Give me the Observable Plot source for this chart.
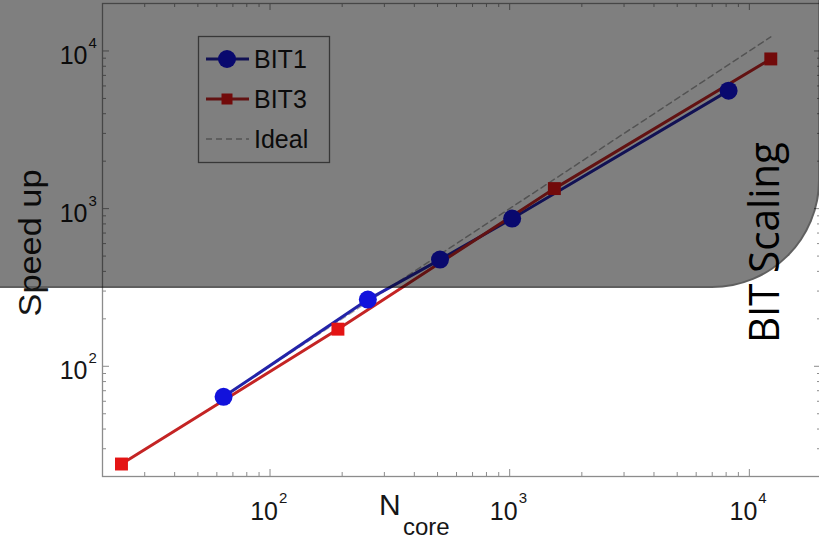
<!DOCTYPE html>
<html><head><meta charset="utf-8">
<script src="https://cdn.jsdelivr.net/npm/d3@7"></script>
<script src="https://cdn.jsdelivr.net/npm/@observablehq/plot@0.6"></script>
<style>
html,body{margin:0;padding:0;background:#fff;}
#wrap{position:relative;width:819px;height:541px;overflow:hidden;font-family:"Liberation Sans",Arial,sans-serif;}
#wrap > *{position:absolute;left:0;top:0;}
</style></head><body><div id="wrap"></div>
<script>
// ---- data ----
const bit1Cores = [64, 256, 512, 1024, 8192];
const bit1Speedup = [64, 265, 475, 865, 5600];
const bit3Cores = [24, 192, 1536, 12288];
const bit3Speedup = [24, 172, 1340, 8900];
const idealCores = [64, 12288];
const idealSpeedup = [64, 12288];
const seriesNames = ["BIT1", "BIT3", "Ideal"];
const majorTicks = [100, 1000, 10000];
const majorExponents = ["2", "3", "4"];
const minorTicks = [20,30,40,50,60,70,80,90,200,300,400,500,600,700,800,900,2000,3000,4000,5000,6000,7000,8000,9000,20000];
const axisDomain = [20, 20000];
const xLabelMain = "N", xLabelSub = "core", yLabel = "Speed up", sideTitle = "BIT Scaling";

// ---- layout ----
const W = 819, H = 541, ML = 102, MT = 3, MB = 65, MR = -2;
const FW = W - ML - MR, FH = H - MT - MB;
const axisColor = "#8c8c8c";
const bigTick = 7, smallTick = 4;
const FONT = "'Liberation Sans', Arial, sans-serif";

const bit1 = bit1Cores.map((c, i) => ({cores: c, speedup: bit1Speedup[i]}));
const bit3 = bit3Cores.map((c, i) => ({cores: c, speedup: bit3Speedup[i]}));
const ideal = idealCores.map((c, i) => ({cores: c, speedup: idealSpeedup[i]}));

const blueLine = "#2323a8", blueDot = "#1212dc";
const redLine = "#c42424", redDot = "#e41414";
const idealColor = "#a6a6a6";
const textColor = "#161616";

const tickOpts = {stroke: axisColor, strokeWidth: 1};
const chart = Plot.plot({
  width: W, height: H,
  marginLeft: ML, marginRight: MR, marginTop: MT, marginBottom: MB,
  x: {type: "log", domain: axisDomain, range: [ML, W - MR], axis: null},
  y: {type: "log", domain: axisDomain, range: [H - MB, MT], axis: null},
  style: {fontFamily: FONT, fontSize: "24px", color: textColor, background: "#fff", overflow: "visible"},
  marks: [
    // inward ticks, bottom / top
    Plot.tickX(majorTicks, {x: d => d, insetTop: FH - bigTick, ...tickOpts}),
    Plot.tickX(minorTicks, {x: d => d, insetTop: FH - smallTick, ...tickOpts}),
    Plot.tickX(majorTicks, {x: d => d, insetBottom: FH - bigTick, ...tickOpts}),
    Plot.tickX(minorTicks, {x: d => d, insetBottom: FH - smallTick, ...tickOpts}),
    // inward ticks, left / right
    Plot.tickY(majorTicks, {y: d => d, insetRight: FW - bigTick, ...tickOpts}),
    Plot.tickY(minorTicks, {y: d => d, insetRight: FW - smallTick, ...tickOpts}),
    Plot.tickY(majorTicks, {y: d => d, insetLeft: FW - bigTick, ...tickOpts}),
    Plot.tickY(minorTicks, {y: d => d, insetLeft: FW - smallTick, ...tickOpts}),
    Plot.frame({stroke: axisColor, strokeWidth: 1.3}),
    // tick labels x
    Plot.text(majorTicks, {x: d => d, frameAnchor: "bottom", text: () => "10", textAnchor: "end", lineAnchor: "bottom", dx: 8, dy: 43, fontSize: 25, fill: textColor}),
    Plot.text(majorTicks, {x: d => d, frameAnchor: "bottom", text: (d, i) => majorExponents[i], textAnchor: "start", lineAnchor: "bottom", dx: 9, dy: 26, fontSize: 15, fill: textColor}),
    // tick labels y
    Plot.text(majorTicks, {y: d => d, frameAnchor: "left", text: () => "10", textAnchor: "end", lineAnchor: "bottom", dx: -15, dy: 13, fontSize: 25, fill: textColor}),
    Plot.text(majorTicks, {y: d => d, frameAnchor: "left", text: (d, i) => majorExponents[i], textAnchor: "start", lineAnchor: "bottom", dx: -14, dy: -3, fontSize: 15, fill: textColor}),
    // data
    Plot.line(ideal, {x: "cores", y: "speedup", stroke: idealColor, strokeWidth: 1.5, strokeDasharray: "6,4"}),
    Plot.line(bit1, {x: "cores", y: "speedup", stroke: blueLine, strokeWidth: 3}),
    Plot.line(bit3, {x: "cores", y: "speedup", stroke: redLine, strokeWidth: 3}),
    Plot.dot(bit1, {x: "cores", y: "speedup", r: 9, fill: blueDot, symbol: "circle"}),
    Plot.dot(bit3, {x: "cores", y: "speedup", r: 7.3, fill: redDot, symbol: "square"})
  ]
});
const wrap = document.getElementById("wrap");
wrap.appendChild(chart);

// ---- axis titles and legend ----
const ann = d3.create("svg").attr("width", W).attr("height", H).style("overflow", "visible")
  .attr("font-family", FONT).attr("fill", textColor);
ann.append("text").attr("transform", "translate(41,243) rotate(-90)").attr("text-anchor", "middle")
  .attr("font-size", 31).attr("textLength", 147).attr("lengthAdjust", "spacingAndGlyphs").text(yLabel);
ann.append("text").attr("x", 379).attr("y", 515).attr("font-size", 30).text(xLabelMain);
ann.append("text").attr("x", 403).attr("y", 535).attr("font-size", 24).text(xLabelSub);

const legendStyles = [
  {line: blueLine, width: 3, dash: null, marker: "circle", markerFill: blueDot},
  {line: redLine, width: 3, dash: null, marker: "square", markerFill: redDot},
  {line: idealColor, width: 1.5, dash: "6,4", marker: null}
];
ann.append("rect").attr("x", 198.5).attr("y", 36.5).attr("width", 131).attr("height", 126)
  .attr("fill", "#fff").attr("stroke", "#6e6e6e").attr("stroke-width", 1.3);
seriesNames.forEach((name, i) => {
  const s = legendStyles[i];
  const yy = 59 + i * 40;
  ann.append("line").attr("x1", 206).attr("x2", 249).attr("y1", yy).attr("y2", yy)
    .attr("stroke", s.line).attr("stroke-width", s.width).attr("stroke-dasharray", s.dash);
  if (s.marker === "circle") ann.append("circle").attr("cx", 227).attr("cy", yy).attr("r", 9).attr("fill", s.markerFill);
  if (s.marker === "square") ann.append("rect").attr("x", 221.5).attr("y", yy - 5.5).attr("width", 11).attr("height", 11).attr("fill", s.markerFill);
  ann.append("text").attr("x", 254).attr("y", yy).attr("dy", "0.36em").attr("font-size", 25).text(name);
});
wrap.appendChild(ann.node());

// ---- dark overlay panel ----
const ov = document.createElement("div");
Object.assign(ov.style, {left: "-10px", top: "-10px", width: "830px", height: "298px", boxSizing: "border-box",
  background: "rgba(0,0,0,0.5)", border: "2px solid rgba(0,0,0,0.25)", borderBottomRightRadius: "108px"});
wrap.appendChild(ov);

// ---- side title ----
const st = d3.create("svg").attr("width", W).attr("height", H);
st.append("text").attr("transform", "translate(779,343) rotate(-90)")
  .attr("font-family", "'Open Sans', sans-serif").attr("font-size", 42).attr("fill", "#000")
  .attr("textLength", 201).attr("lengthAdjust", "spacingAndGlyphs").text(sideTitle);
wrap.appendChild(st.node());
</script></body></html>
